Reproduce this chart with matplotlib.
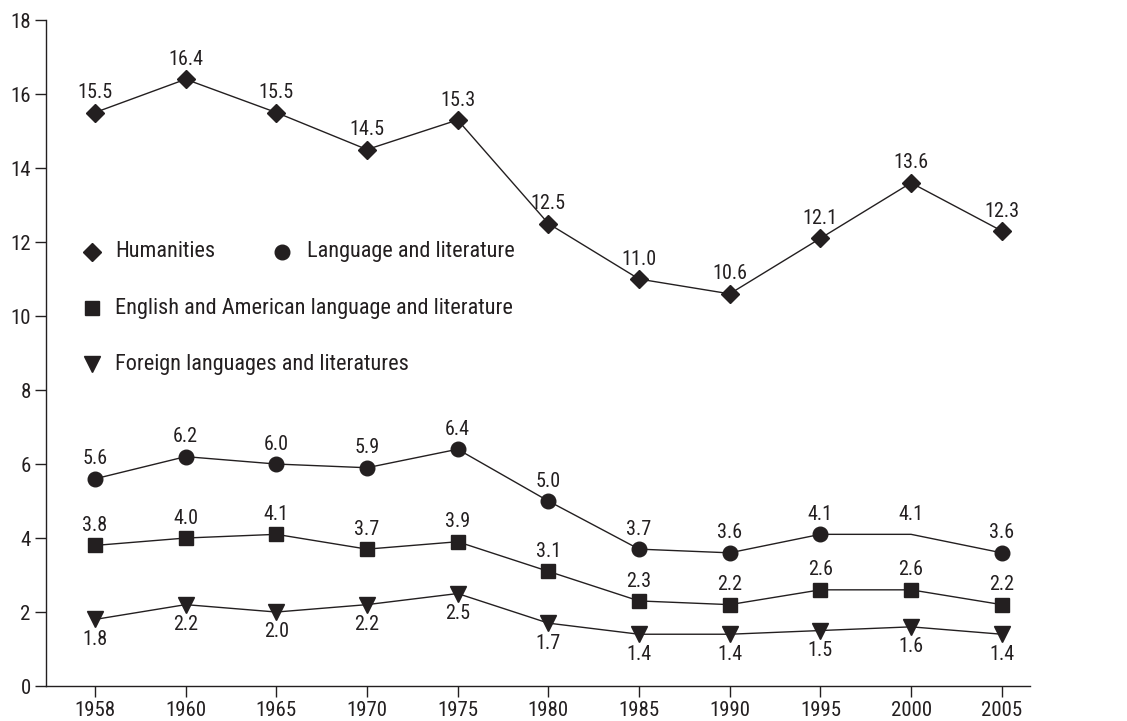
import matplotlib
matplotlib.use("Agg")
import matplotlib.pyplot as plt
from matplotlib import font_manager

years = ["1958", "1960", "1965", "1970", "1975", "1980", "1985", "1990", "1995", "2000", "2005"]
humanities = [15.5, 16.4, 15.5, 14.5, 15.3, 12.5, 11.0, 10.6, 12.1, 13.6, 12.3]
language = [5.6, 6.2, 6.0, 5.9, 6.4, 5.0, 3.7, 3.6, 4.1, 4.1, 3.6]
english = [3.8, 4.0, 4.1, 3.7, 3.9, 3.1, 2.3, 2.2, 2.6, 2.6, 2.2]
foreign = [1.8, 2.2, 2.0, 2.2, 2.5, 1.7, 1.4, 1.4, 1.5, 1.6, 1.4]
yticks = [0, 2, 4, 6, 8, 10, 12, 14, 16, 18]

names = {f.name for f in font_manager.fontManager.ttflist}
fam = [f for f in ["Roboto Condensed", "Liberation Sans Narrow", "Liberation Sans", "DejaVu Sans"] if f in names]
plt.rcParams['font.family'] = fam + ["DejaVu Sans"]

C = "#231f20"
fig = plt.figure(figsize=(11.27, 7.21), dpi=100)
ax = fig.add_axes([0.0408, 0.0485, 0.873, 0.9237])
x = list(range(len(years)))

series = [
    (humanities, "D", 9.5, "above", list(range(11))),
    (language, "o", 10.5, "above", [i for i in range(11) if i != 9]),
    (english, "s", 10, "above", list(range(11))),
    (foreign, "v", 11.5, "below", list(range(11))),
]
for vals, m, ms, pos, me in series:
    ax.plot(x, vals, color=C, lw=1.0, marker=m, ms=ms, markevery=me,
            markerfacecolor=C, markeredgecolor=C)
    for xi, v in zip(x, vals):
        if pos == "above":
            ax.annotate(f"{v:.1f}", (xi, v), xytext=(0, 7.5), textcoords="offset points",
                        ha="center", va="bottom", fontsize=14.5, color=C)
        else:
            ax.annotate(f"{v:.1f}", (xi, v), xytext=(0, -7.5), textcoords="offset points",
                        ha="center", va="top", fontsize=14.5, color=C)

ax.set_xlim(-0.54, 10.31)
ax.set_ylim(0, 18)
ax.set_xticks(x)
ax.set_xticklabels(years)
ax.set_yticks(yticks)
for s in ["top", "right"]:
    ax.spines[s].set_visible(False)
for s in ["left", "bottom"]:
    ax.spines[s].set_color(C)
    ax.spines[s].set_linewidth(1.0)
ax.tick_params(direction="out", length=8, width=1.0, color=C, labelsize=15, labelcolor=C, pad=3)

# legend
leg = [
    ("D", 9, 0.0467, 0.652, 0.0701, "Humanities"),
    ("o", 10.5, 0.240, 0.652, 0.265, "Language and literature"),
    ("s", 10, 0.0467, 0.567, 0.0701, "English and American language and literature"),
    ("v", 11.5, 0.0467, 0.4835, 0.0701, "Foreign languages and literatures"),
]
for m, ms, mx, my, tx, label in leg:
    ax.plot([mx], [my], marker=m, ms=ms, color=C, transform=ax.transAxes, clip_on=False)
    ax.text(tx, my, label, transform=ax.transAxes, va="center", ha="left", fontsize=16, color=C)

fig.savefig("out.png", dpi=100)
